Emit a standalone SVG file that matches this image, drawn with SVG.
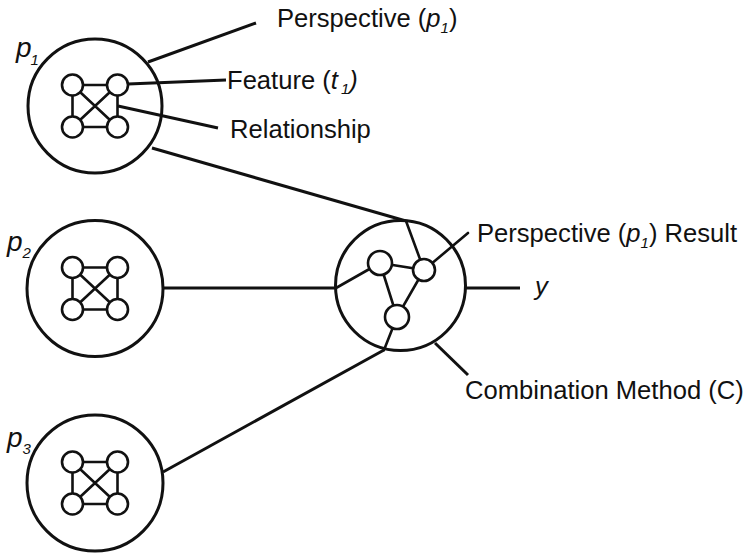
<svg xmlns="http://www.w3.org/2000/svg" width="747" height="554" viewBox="0 0 747 554">
  <style>
    .ring { fill: #fff; stroke: #111; stroke-width: 3; }
    .node { fill: #fff; stroke: #111; stroke-width: 2.6; }
    .edge { stroke: #111; stroke-width: 2.6; fill: none; stroke-linecap: round; }
    .conn { stroke: #111; stroke-width: 3; fill: none; }
    .lbl { font-family: "Liberation Sans", Arial, Helvetica, sans-serif; font-size: 25.6px; fill: #111; }
    .big { font-size: 28px; }
    .it { font-style: italic; }
    .sub { font-size: 15px; font-style: italic; }
  </style>
  <defs>
    <!-- small 4-node graph drawn inside each perspective circle, centred at 0,0 -->
    <g id="quad">
      <path class="edge" d="M-22.5,-21 H22.5 V21 H-22.5 Z M-22.5,-21 L22.5,21 M22.5,-21 L-22.5,21"/>
      <circle class="node" cx="-22.5" cy="-21" r="10.5"/>
      <circle class="node" cx="22.5" cy="-21" r="10.5"/>
      <circle class="node" cx="-22.5" cy="21" r="10.5"/>
      <circle class="node" cx="22.5" cy="21" r="10.5"/>
    </g>
  </defs>

  <!-- connectors between the perspective circles and the combiner, plus label leaders -->
  <g id="connectors">
    <line class="conn" x1="152" y1="148" x2="406" y2="221"/>
    <line class="conn" x1="163" y1="288" x2="336" y2="288"/>
    <line class="conn" x1="163" y1="472" x2="384" y2="350"/>
    <line class="conn" x1="148" y1="62" x2="256" y2="23"/>
    <line class="conn" x1="520" y1="288" x2="466" y2="288"/>
    <line class="conn" x1="435" y1="343" x2="468" y2="375"/>
  </g>

  <g id="p1">
    <circle class="ring" cx="95" cy="106" r="67"/>
    <use href="#quad" x="95" y="106"/>
    <line class="conn" x1="128" y1="84" x2="226" y2="80"/>
    <line class="conn" x1="118" y1="106" x2="218" y2="128"/>
    <text class="lbl big it" x="16" y="57">p<tspan class="sub" dx="-1" dy="8">1</tspan></text>
  </g>

  <g id="p2">
    <circle class="ring" cx="95" cy="288.5" r="68"/>
    <use href="#quad" x="95" y="288.5"/>
    <text class="lbl big it" x="7" y="251">p<tspan class="sub" dy="7">2</tspan></text>
  </g>

  <g id="p3">
    <circle class="ring" cx="95" cy="483" r="68"/>
    <use href="#quad" x="95" y="483"/>
    <text class="lbl big it" x="7" y="447">p<tspan class="sub" dy="7">3</tspan></text>
  </g>

  <g id="combiner">
    <circle class="ring" cx="400.5" cy="285.5" r="65"/>
    <path class="edge" d="M406,221 L424,270 M336,288 L380,263 M384,350 L397,317 M380,263 L424,270 L397,317 Z M424,270 L468,233"/>
    <circle class="node" cx="380" cy="263" r="12"/>
    <circle class="node" cx="424" cy="270" r="11"/>
    <circle class="node" cx="397" cy="317" r="12"/>
  </g>

  <g id="labels">
    <text class="lbl" x="277" y="27">Perspective (<tspan class="it">p</tspan><tspan class="sub" dy="6">1</tspan><tspan dy="-6">)</tspan></text>
    <text class="lbl" x="227" y="89">Feature (<tspan class="it">t</tspan><tspan class="sub" dx="3" dy="5">1</tspan><tspan class="it" dy="-5">)</tspan></text>
    <text class="lbl" x="230" y="138">Relationship</text>
    <text class="lbl" x="477" y="242">Perspective (<tspan class="it">p</tspan><tspan class="sub" dy="6">1</tspan><tspan dy="-6">) Result</tspan></text>
    <text class="lbl it" x="535" y="295">y</text>
    <text class="lbl" x="465" y="399">Combination Method (C)</text>
  </g>
</svg>
